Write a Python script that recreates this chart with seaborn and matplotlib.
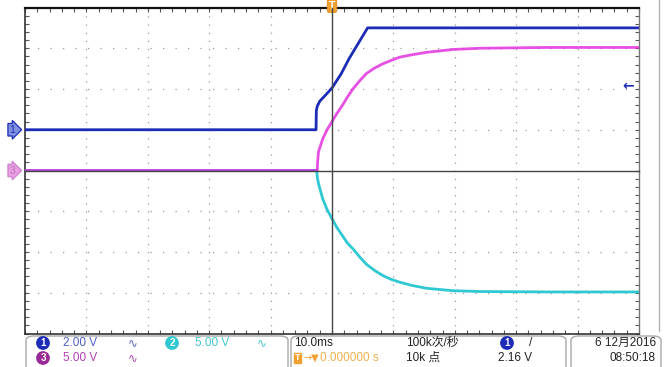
import numpy as np
import pandas as pd
import matplotlib
matplotlib.use("Agg")
import matplotlib.pyplot as plt
import seaborn as sns
from matplotlib.patches import FancyBboxPatch
from matplotlib.ticker import MultipleLocator
import matplotlib.transforms as mtransforms

# ---------------- data (read from the screen capture) ----------------
# time in ms, value in volts
t_ch1 = [-50, -2.6, -2.55, -2.4, -2.0, -1.0, 0.0, 1.5, 2.8, 4.3, 5.8, 50]
v_ch1 = [0.0, 0.0, 0.95, 1.15, 1.4, 1.72, 2.05, 2.75, 3.5, 4.25, 5.0, 5.0]

t_ch3 = [-50, -2.4, -2.35, -2.2, -1.5, -0.8, 0.0, 0.8, 1.7, 2.5, 3.4, 4.5, 5.6, 7.0, 8.3, 9.6, 11.0, 13.0, 15.4, 19.7, 24.1, 35, 50]
v_ch3 = [0.0, 0.0, 1.0, 2.3, 3.9, 5.0, 6.0, 7.0, 8.0, 9.0, 10.0, 11.0, 11.9, 12.6, 13.1, 13.5, 13.9, 14.2, 14.5, 14.85, 15.0, 15.1, 15.1]

t_ch2 = [-50, -2.5, -2.4, -2.2, -1.5, -0.8, 0.0, 0.8, 1.7, 2.5, 3.4, 4.5, 5.6, 7.0, 8.3, 9.6, 11.0, 13.0, 15.4, 19.7, 24.1, 35, 50]
v_ch2 = [0.0, 0.0, -0.8, -1.6, -3.5, -4.8, -5.9, -7.0, -8.0, -8.9, -9.6, -10.6, -11.5, -12.3, -12.9, -13.35, -13.7, -14.1, -14.45, -14.75, -14.85, -14.9, -14.9]

ch_names = ["CH2", "CH3", "CH1"]
ch_scale = {"CH1": 2.0, "CH2": 5.0, "CH3": 5.0}      # V/div
ch_offset = {"CH1": 1.0, "CH2": 0.0, "CH3": 0.0}     # div
ch_color = {"CH1": "#1c2cb6", "CH2": "#2fc8d2", "CH3": "#e024dc"}
trig_level = 2.16  # V on CH1

# ---------------- build table ----------------
frames = []
for name, t, v in [("CH2", t_ch2, v_ch2), ("CH3", t_ch3, v_ch3), ("CH1", t_ch1, v_ch1)]:
    d = pd.DataFrame({"t": t, "v": v})
    d["div"] = d["v"] / ch_scale[name] + ch_offset[name]
    d["ch"] = name
    frames.append(d)
df = pd.concat(frames, ignore_index=True)

# ---------------- figure ----------------
sns.set_style("white")
plt.rcParams["font.family"] = ["Liberation Sans Narrow", "Liberation Sans", "Noto Sans CJK SC", "DejaVu Sans"]

W, H = 670, 367
fig = plt.figure(figsize=(W / 100, H / 100), dpi=100)
fig.patch.set_facecolor("white")

def fx(x):
    return x / W

def fy(y):
    return 1 - y / H

L, R, T, B = 25, 639, 7.5, 333.5
ax = fig.add_axes([fx(L), fy(B), (R - L) / W, (B - T) / H])
ax.set_xlim(-50, 50)
ax.set_ylim(-4, 4)

# grid (dotted)
for gx in np.arange(-40, 50, 10):
    if gx != 0:
        ax.axvline(gx, color="#9a9a9a", lw=0.9, ls=(0, (1.0, 5.5)), zorder=0)
for gy in np.arange(-3, 4, 1):
    if gy != 0:
        ax.axhline(gy, color="#9a9a9a", lw=0.9, ls=(0, (1.0, 9.0)), zorder=0)

# traces
for i, name in enumerate(ch_names):
    sub = df[df["ch"] == name]
    sns.lineplot(data=sub, x="t", y="div", color=ch_color[name], lw=2.0,
                 sort=False, estimator=None, ax=ax, legend=False,
                 alpha=0.8 if name == "CH3" else 1.0, zorder=3 + i)

ax.set_xlabel("")
ax.set_ylabel("")
ax.set_xticklabels([])
ax.set_yticklabels([])
ax.xaxis.set_major_locator(MultipleLocator(10))
ax.yaxis.set_major_locator(MultipleLocator(1))
ax.xaxis.set_minor_locator(MultipleLocator(2))
ax.yaxis.set_minor_locator(MultipleLocator(0.2))
ax.tick_params(which="both", direction="in", top=True, right=True, bottom=True, left=True,
               length=3, width=0.8, color="#555555", labelbottom=False, labelleft=False)
for s in ["left", "bottom"]:
    ax.spines[s].set_color("#333333")
    ax.spines[s].set_linewidth(1.2)
ax.spines["top"].set_color("#111111")
ax.spines["top"].set_linewidth(1.6)
ax.spines["right"].set_color("#777777")
ax.spines["right"].set_linewidth(1.0)

# center crosshair axes
ax2 = fig.add_axes(ax.get_position(), frameon=True)
ax2.set_xlim(-50, 50)
ax2.set_ylim(-4, 4)
ax2.patch.set_alpha(0)
ax2.spines["left"].set_position(("data", 0))
ax2.spines["bottom"].set_position(("data", 0))
ax2.spines["right"].set_visible(False)
ax2.spines["top"].set_visible(False)
for s in ["left", "bottom"]:
    ax2.spines[s].set_color("#444444")
    ax2.spines[s].set_linewidth(1.0)
ax2.xaxis.set_major_locator(MultipleLocator(10))
ax2.yaxis.set_major_locator(MultipleLocator(1))
ax2.xaxis.set_minor_locator(MultipleLocator(2))
ax2.yaxis.set_minor_locator(MultipleLocator(0.2))
ax2.tick_params(which="both", direction="inout", length=5, width=0.8, color="#444444",
                labelbottom=False, labelleft=False)
ax2.set_zorder(ax.get_zorder() + 1)

# channel ground markers (left)
bl = mtransforms.blended_transform_factory(ax.transAxes, ax.transData)
ax.text(-0.021, ch_offset["CH1"], "1", transform=bl, ha="center", va="center", fontsize=7.5,
        color="#1c2cb6", clip_on=False, zorder=10,
        bbox=dict(boxstyle="rarrow,pad=0.12", fc="#7f90e0", ec="#1c2cb6", lw=0.9))
ax.text(-0.021, ch_offset["CH3"], "3", transform=bl, ha="center", va="center", fontsize=7.5,
        color="#c070c0", clip_on=False, zorder=10,
        bbox=dict(boxstyle="rarrow,pad=0.12", fc="#e8a0e0", ec="#d080d0", lw=0.9))

# trigger position marker (top)
bt = mtransforms.blended_transform_factory(ax.transData, ax.transAxes)
ax.text(0, 1.005, "T", transform=bt, ha="center", va="center", fontsize=7.5, color="white",
        fontweight="bold", clip_on=False, zorder=10,
        bbox=dict(boxstyle="round,pad=0.15", fc="#f0a030", ec="#e09020", lw=0.6))

# trigger level marker (right)
ax.text(0.983, ch_offset["CH1"] + trig_level / ch_scale["CH1"], "\u2190", transform=bl,
        ha="center", va="center", fontsize=10, color="#1c2cb6", fontweight="bold",
        family="DejaVu Sans", zorder=10)

# outer right frame line
fig.add_artist(plt.Line2D([fx(659), fx(659)], [fy(0), fy(331)], color="#b0b0b0", lw=1.0))

# status bar boxes
for x0, x1 in [(26, 288), (291, 566), (571, 661)]:
    fig.add_artist(FancyBboxPatch((fx(x0), fy(372)), fx(x1) - fx(x0), fy(336) - fy(372),
                                  boxstyle="round,pad=0,rounding_size=0.012",
                                  transform=fig.transFigure, fc="none", ec="#a8a8a8", lw=1.0))

def circ(x, y, s, c):
    fig.text(fx(x), fy(y), s, ha="center", va="center", fontsize=7, color="white", fontweight="bold",
             bbox=dict(boxstyle="circle,pad=0.12", fc=c, ec=c))

def txt(x, y, s, c="#222222", ha="left", size=8.5, **kw):
    fig.text(fx(x), fy(y), s, ha=ha, va="center", fontsize=size, color=c, **kw)

circ(43, 343, "1", "#1c2cb6")
txt(63, 343, "2.00 V", "#5060c8")
txt(128, 343, "\u223f", "#5060c8", family="DejaVu Sans")
circ(172, 343, "2", "#2fc8d2")
txt(195, 343, "5.00 V", "#40c8d0")
txt(257, 343, "\u223f", "#40c8d0", family="DejaVu Sans")
circ(43, 358, "3", "#9a2a98")
txt(63, 358, "5.00 V", "#b040b0")
txt(128, 358, "\u223f", "#b040b0", family="DejaVu Sans")

txt(294, 343, "10.0ms")
fig.text(fx(295), fy(358), "T", ha="left", va="center", fontsize=6.5, color="white", fontweight="bold",
         bbox=dict(boxstyle="square,pad=0.1", fc="#f0a030", ec="#f0a030"))
txt(303, 358, "\u2192\u25bc", "#f0a030", size=7, family="DejaVu Sans")
txt(320, 358, "0.000000 s", "#f0b050")
txt(406, 343, "100k\u6b21/\u79d2")
txt(406, 358, "10k \u70b9")
circ(507, 343, "1", "#1c2cb6")
txt(529, 343, "/")
txt(498, 358, "2.16 V")
txt(656, 343, "6 12\u67082016", ha="right")
txt(656, 358, "08:50:18", ha="right")

fig.savefig("out.png", dpi=100, facecolor="white")
